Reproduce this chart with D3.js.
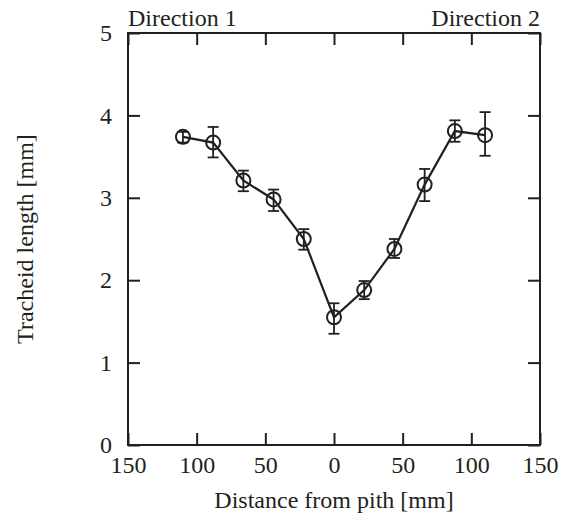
<!DOCTYPE html>
<html>
<head>
<meta charset="utf-8">
<script src="https://cdn.jsdelivr.net/npm/d3@7"></script>
<style>
  body { margin: 0; background: #fff; }
  text { font-family: "Liberation Serif", "Times New Roman", serif; fill: #231f20; }
</style>
</head>
<body>
<script>
// distance from pith, negative = direction 1
var distances = [-110, -88, -66, -44, -22, 0, 22, 44, 66, 88, 110];
var lengths   = [3.74, 3.67, 3.21, 2.98, 2.50, 1.55, 1.88, 2.38, 3.16, 3.81, 3.76];
var errTop    = [3.80, 3.86, 3.33, 3.10, 2.62, 1.72, 1.99, 2.50, 3.35, 3.94, 4.04];
var errBottom = [3.67, 3.49, 3.08, 2.84, 2.37, 1.35, 1.77, 2.27, 2.96, 3.68, 3.51];
var xTicks = [-150, -100, -50, 0, 50, 100, 150];
var yTicks = [0, 1, 2, 3, 4, 5];

var w = 570, h = 532;
var pLeft = 128, pRight = 540, pTop = 33, pBottom = 445;
var ink = "#231f20";
var fs = "24px";

var svg = d3.select("body").append("svg")
    .attr("width", w)
    .attr("height", h);

var x = d3.scaleLinear().domain([-150, 150]).range([pLeft, pRight]);
var y = d3.scaleLinear().domain([0, 5]).range([pBottom, pTop]);

var fmtX = function(d) { return Math.abs(d); };

// axes, ticks inward
var xAxis = svg.append("g").attr("transform", "translate(0," + pBottom + ")")
    .call(d3.axisBottom(x).tickValues(xTicks).tickSize(-12).tickPadding(16).tickFormat(fmtX));
var xTop = svg.append("g").attr("transform", "translate(0," + pTop + ")")
    .call(d3.axisTop(x).tickValues(xTicks).tickSize(-12).tickFormat(""));
var yAxis = svg.append("g").attr("transform", "translate(" + pLeft + ",0)")
    .call(d3.axisLeft(y).tickValues(yTicks).tickSize(-12).tickPadding(16).tickFormat(d3.format("d")));
var yRight = svg.append("g").attr("transform", "translate(" + pRight + ",0)")
    .call(d3.axisRight(y).tickValues(yTicks).tickSize(-12).tickFormat(""));

[xAxis, xTop, yAxis, yRight].forEach(function(g) {
    g.select(".domain").remove();
    g.selectAll("line").attr("stroke", ink).attr("stroke-width", 2);
    g.selectAll("text").style("font-size", fs).attr("fill", ink);
});
xAxis.selectAll("text").attr("dy", "0.5em");

// frame
svg.append("rect")
    .attr("x", pLeft).attr("y", pTop)
    .attr("width", pRight - pLeft).attr("height", pBottom - pTop)
    .attr("fill", "none").attr("stroke", ink).attr("stroke-width", 2);

var data = distances.map(function(d, i) {
    return { x: d, y: lengths[i], hi: errTop[i], lo: errBottom[i] };
});

// line
svg.append("path")
    .datum(data)
    .attr("fill", "none")
    .attr("stroke", ink)
    .attr("stroke-width", 2.2)
    .attr("d", d3.line().x(function(d) { return x(d.x); }).y(function(d) { return y(d.y); }));

// error bars
var eb = svg.append("g").attr("stroke", ink).attr("stroke-width", 1.8);
var cap = 5.5;
eb.selectAll(".v").data(data).enter().append("line")
    .attr("x1", function(d) { return x(d.x); })
    .attr("x2", function(d) { return x(d.x); })
    .attr("y1", function(d) { return y(d.hi); })
    .attr("y2", function(d) { return y(d.lo); });
eb.selectAll(".t").data(data).enter().append("line")
    .attr("x1", function(d) { return x(d.x) - cap; })
    .attr("x2", function(d) { return x(d.x) + cap; })
    .attr("y1", function(d) { return y(d.hi); })
    .attr("y2", function(d) { return y(d.hi); });
eb.selectAll(".b").data(data).enter().append("line")
    .attr("x1", function(d) { return x(d.x) - cap; })
    .attr("x2", function(d) { return x(d.x) + cap; })
    .attr("y1", function(d) { return y(d.lo); })
    .attr("y2", function(d) { return y(d.lo); });

// markers
svg.selectAll("circle").data(data).enter().append("circle")
    .attr("cx", function(d) { return x(d.x); })
    .attr("cy", function(d) { return y(d.y); })
    .attr("r", 7)
    .attr("fill", "none")
    .attr("stroke", ink)
    .attr("stroke-width", 2);

// labels
svg.append("text").attr("x", pLeft).attr("y", 26)
    .style("font-size", fs).text("Direction 1");
svg.append("text").attr("x", pRight).attr("y", 26)
    .attr("text-anchor", "end")
    .style("font-size", fs).text("Direction 2");

svg.append("text")
    .attr("x", (pLeft + pRight) / 2)
    .attr("y", 508)
    .attr("text-anchor", "middle")
    .style("font-size", fs)
    .text("Distance from pith [mm]");

svg.append("text")
    .attr("transform", "translate(33," + ((pTop + pBottom) / 2) + ") rotate(-90)")
    .attr("text-anchor", "middle")
    .style("font-size", fs)
    .text("Tracheid length [mm]");
</script>
</body>
</html>
